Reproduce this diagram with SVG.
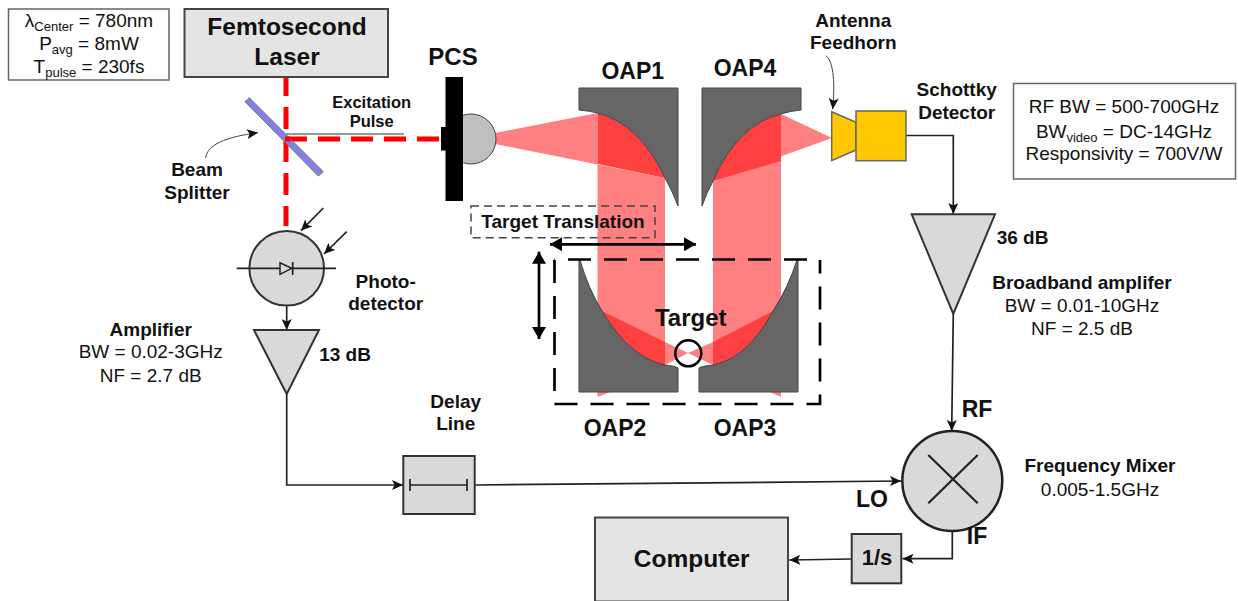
<svg xmlns="http://www.w3.org/2000/svg" width="1238" height="601" viewBox="0 0 1238 601">
<style>
text{font-family:"Liberation Sans",Arial,sans-serif;fill:#111;text-anchor:middle}
.b{font-weight:700}
.s{font-size:19px}
.l{font-size:23px;font-weight:700}
.m{font-size:19px;font-weight:700}
.sub{font-size:13px}
.box{fill:#e4e4e4;stroke:#444;stroke-width:2}
.info{fill:#fff;stroke:#666;stroke-width:1.5}
.comp{fill:#d9d9d9;stroke:#333;stroke-width:2}
.wire{fill:none;stroke:#222;stroke-width:1.7}
.laser{fill:none;stroke:#f00;stroke-width:5;stroke-dasharray:22 11}
.pink{fill:#ff8080}
.red{fill:#ff4040}
.mirror{fill:#666;stroke:#444;stroke-width:1}
.yel{fill:#ffc800;stroke:#666;stroke-width:1.5}
.thick{fill:none;stroke:#000;stroke-width:2.7}
.dash{fill:none;stroke:#000;stroke-width:2.7;stroke-dasharray:23 13}
</style>
<defs>
<marker id="a" markerUnits="userSpaceOnUse" markerWidth="12" markerHeight="10" refX="11" refY="5" orient="auto"><path d="M0 0L11 5L0 10L2.5 5z" fill="#111"/></marker>
<marker id="big" markerUnits="userSpaceOnUse" markerWidth="14" markerHeight="14" refX="12" refY="7" orient="auto-start-reverse"><path d="M0 0L12 7L0 14z" fill="#000"/></marker>
</defs>
<rect width="1238" height="601" fill="#fff"/>
<g id="beams">
<path class="pink" d="M495 133L597.5 113V397L610 392H665V207V178L495 144z"/>
<path class="pink" d="M832 138L781 114V397L770 392H713V181z"/>
<path class="red" d="M597.5 113Q640 124 665 178L597.5 164z"/>
<path class="red" d="M781 114Q738 124 713 181L781 161z"/>
<path class="pink" d="M665 342V365L688 353z"/>
<path class="pink" d="M713 342V365L688 353z"/>
<path class="red" d="M602 311L665 342V365Q630 358 602 311z"/>
<path class="red" d="M773 311L713 342V365Q748 358 773 311z"/>
</g>
<g id="oap1"><path class="mirror" d="M579 88H678V206Q672 190 665 178Q640 124 597.5 113Q590 111 579 110z"/></g>
<g id="oap4"><path class="mirror" d="M801 88H702V206Q707 192 713 181Q738 124 781 114Q790 111 801 110z"/></g>
<g id="oap2"><path class="mirror" d="M579 260V392H678V368Q675 366 665 365Q630 358 602 311Q588 288 580 260z"/></g>
<g id="oap3"><path class="mirror" d="M798 260V392H699V368Q702 366 713 365Q748 358 773 311Q788 288 797 260z"/></g>
<g id="connectors">
<path class="laser" d="M286 78V226" stroke-dashoffset="4"/>
<path class="laser" d="M285 139H441"/>
<path d="M286 134H404" fill="none" stroke="#777" stroke-width="1.5"/>
<path class="wire" d="M286.7 306V330" marker-end="url(#a)"/>
<path class="wire" d="M286.7 394V485H403" marker-end="url(#a)"/>
<path class="wire" d="M475 485L901 481" marker-end="url(#a)"/>
<path class="wire" d="M906 135.5H953.3V214" marker-end="url(#a)"/>
<path class="wire" d="M953.3 314L951.7 431" marker-end="url(#a)"/>
<path class="wire" d="M952.3 531.5V558.7H902.5" marker-end="url(#a)"/>
<path class="wire" d="M851.7 559L789.3 560" marker-end="url(#a)"/>
<path class="wire" d="M323.3 208L301 230.7" marker-end="url(#a)"/>
<path class="wire" d="M346.7 231.7L324 254" marker-end="url(#a)"/>
<path d="M205.7 158C207 145 225 137 258 132.7" fill="none" stroke="#444" stroke-width="1" marker-end="url(#a)"/>
<path d="M826 55.7C834 62 835 85 832.7 109.3" fill="none" stroke="#444" stroke-width="1" marker-end="url(#a)"/>
<path class="thick" d="M550 244.3H696" marker-start="url(#big)" marker-end="url(#big)"/>
<path class="thick" d="M539 251.7V339" marker-start="url(#big)" marker-end="url(#big)"/>
</g>
<g id="params"><rect class="info" x="8.5" y="9" width="160.5" height="71"/>
<text class="s" x="89" y="27">λ<tspan class="sub" dy="4">Center</tspan><tspan dy="-4"> = 780nm</tspan></text>
<text class="s" x="89" y="50">P<tspan class="sub" dy="4">avg</tspan><tspan dy="-4"> = 8mW</tspan></text>
<text class="s" x="89" y="73">T<tspan class="sub" dy="4">pulse</tspan><tspan dy="-4"> = 230fs</tspan></text></g>
<g id="laser"><rect class="box" x="184.5" y="9" width="203.5" height="68"/>
<text class="b" x="287" y="35" style="font-size:24.5px">Femtosecond</text>
<text class="b" x="287" y="65" style="font-size:24.5px">Laser</text></g>
<g id="beam-splitter"><path d="M249.3 97.7L323.3 171.7L318.3 176L245 101.7z" fill="#8080e6" stroke="#777" stroke-width="1"/>
<text class="m" x="197" y="176">Beam</text><text class="m" x="197" y="199">Splitter</text></g>
<path d="M285 139H291" fill="none" stroke="#f00" stroke-width="5"/>
<g id="excitation"><text class="b" style="font-size:16.5px" x="371.7" y="108">Excitation</text><text class="b" style="font-size:16.5px" x="371.7" y="127">Pulse</text></g>
<g id="pcs"><circle cx="471" cy="139" r="25" fill="#bfbfbf" stroke="#444" stroke-width="1"/>
<rect x="445.5" y="77" width="17.5" height="124" fill="#000"/><rect x="441" y="127" width="5" height="23.5" fill="#000"/>
<text class="b" style="font-size:24px" x="453" y="65">PCS</text></g>
<g id="horn"><path class="yel" d="M831.7 111.7L856 122.3V150L831.7 160.7z"/><rect class="yel" x="856" y="111" width="50" height="49.7"/>
<text class="m" x="853.3" y="26.7">Antenna</text><text class="m" x="853.3" y="49.3">Feedhorn</text>
<text class="m" x="956.7" y="96">Schottky</text><text class="m" x="956.7" y="118.7">Detector</text></g>
<g id="rf-info"><rect class="info" x="1013.5" y="83.5" width="222" height="95.5"/>
<text class="s" x="1124" y="113.3">RF BW = 500-700GHz</text>
<text class="s" x="1124" y="137.7">BW<tspan class="sub" dy="4">video</tspan><tspan dy="-4"> = DC-14GHz</tspan></text>
<text class="s" x="1124" y="160">Responsivity = 700V/W</text></g>
<g id="target-translation"><rect x="471" y="206" width="184" height="31.7" fill="none" stroke="#444" stroke-width="1.5" stroke-dasharray="8 5"/>
<text class="b" style="font-size:19px" x="563" y="227.5">Target Translation</text></g>
<g id="target-stage">
<path class="dash" d="M554.5 259.5H820" stroke-dashoffset="22.5"/>
<path class="dash" d="M554.5 260V404"/>
<path class="dash" d="M554.5 404H820V260"/>
<circle cx="688.3" cy="353.3" r="13" fill="none" stroke="#000" stroke-width="2.5"/>
<text class="b" style="font-size:24px" x="690.7" y="326">Target</text></g>
<text class="l" x="632.7" y="79.3">OAP1</text><text class="l" x="745" y="76">OAP4</text>
<text class="l" x="615" y="435.7">OAP2</text><text class="l" x="745" y="435.7">OAP3</text>
<g id="photodetector"><circle class="comp" cx="286.7" cy="268.3" r="37.3"/>
<path class="wire" d="M236.7 268.3H336"/><path d="M280 262.7V274.3L291.7 268.3z" fill="#d9d9d9" stroke="#222" stroke-width="1.5"/><path class="wire" d="M292.7 262V275"/>
<text class="m" x="385.7" y="287.7">Photo-</text><text class="m" x="385.7" y="310">detector</text></g>
<g id="amplifier"><path class="comp" d="M254 330H319L286.7 394z"/>
<text class="m" x="150.7" y="335.7">Amplifier</text><text class="s" x="150.7" y="358">BW = 0.02-3GHz</text><text class="s" x="150.7" y="382">NF = 2.7 dB</text>
<text class="m" x="345" y="360.7">13 dB</text></g>
<g id="delay"><rect class="comp" x="403.3" y="456" width="71.4" height="58"/><path class="wire" d="M410 479V491M410 485H467M467 479V491"/>
<text class="m" x="455.7" y="408">Delay</text><text class="m" x="455.7" y="430">Line</text></g>
<g id="bb-amp"><path class="comp" d="M911.7 214.3H995L953.3 314z"/>
<text class="m" x="1022.5" y="244">36 dB</text>
<text class="m" x="1082" y="289">Broadband amplifer</text><text class="s" x="1082" y="312">BW = 0.01-10GHz</text><text class="s" x="1082" y="335">NF = 2.5 dB</text></g>
<g id="mixer"><circle cx="952.3" cy="481" r="50" fill="#d9d9d9" stroke="#222" stroke-width="2.5"/>
<path d="M928.3 455L977.7 503.3M977.7 455L928.3 503.3" stroke="#222" stroke-width="2.2" fill="none"/>
<text class="l" x="977" y="417">RF</text><text class="l" x="872" y="507">LO</text><text class="l" x="977" y="544">IF</text>
<text class="m" x="1100" y="471.7">Frequency Mixer</text><text class="s" x="1100" y="495.7">0.005-1.5GHz</text></g>
<g id="integrator"><rect class="comp" x="851.7" y="534" width="49.6" height="49.3"/><text class="b" style="font-size:22px" x="877" y="565">1/s</text></g>
<g id="computer"><rect class="box" x="595" y="517.5" width="193" height="84"/><text class="b" style="font-size:24.5px" x="691.7" y="566.7">Computer</text></g>
</svg>
